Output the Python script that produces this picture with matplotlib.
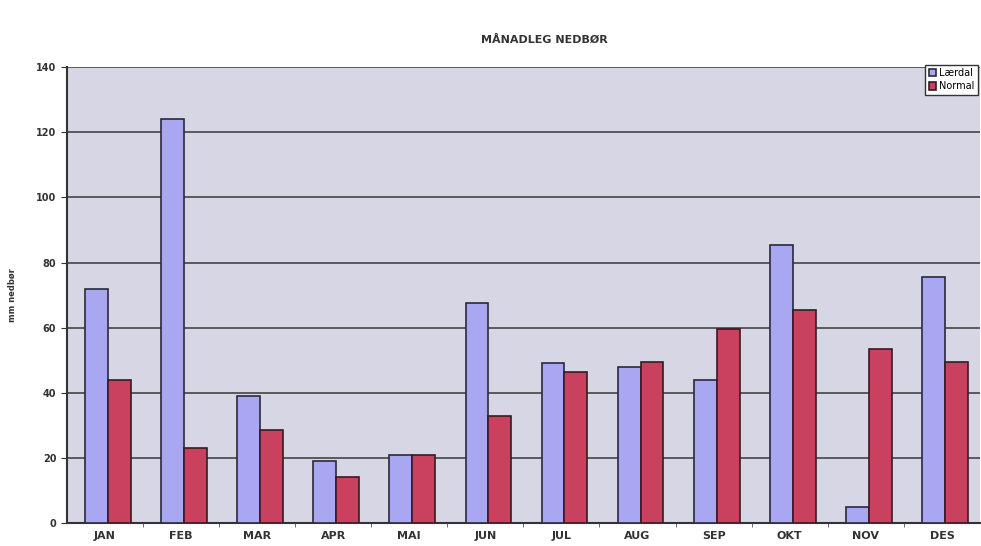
import matplotlib.pyplot as plt
import numpy as np

months = ["JAN", "FEB", "MAR", "APR", "MAI", "JUN", "JUL", "AUG", "SEP", "OKT", "NOV", "DES"]
laerdal = [72, 124, 39, 19, 21, 67.5, 49, 48, 44, 85.5, 5, 75.5]
normal = [44, 23, 28.5, 14, 21, 33, 46.5, 49.5, 59.5, 65.5, 53.5, 49.5]
yticks = [0, 20, 40, 60, 80, 100, 120, 140]

fig = plt.figure(figsize=(9.81, 5.46), dpi=100)
ax = fig.add_axes([0.068, 0.042, 0.931, 0.835])
ax.set_facecolor("#d6d6e4")

x = np.arange(len(months))
w = 0.3
ax.bar(x - w / 2 + 0.04, laerdal, w, color="#a9a6f2", edgecolor="#2a2a3a", linewidth=1.2, label="Lærdal", zorder=3)
ax.bar(x + w / 2 + 0.04, normal, w, color="#c9415f", edgecolor="#3a1a24", linewidth=1.2, label="Normal", zorder=3)

ax.set_xlim(-0.5, len(months) - 0.5)
ax.set_ylim(0, 140)
ax.set_yticks(yticks)
ax.set_yticklabels([str(v) for v in yticks], fontsize=7, fontweight="bold", color="#333333")
ax.set_xticks(x)
ax.set_xticklabels(months, fontsize=8, fontweight="bold", color="#333333")
ax.set_xticks(x[:-1] + 0.5, minor=True)
ax.tick_params(axis="x", which="major", length=0, pad=6)
ax.tick_params(axis="x", which="minor", length=3, color="#555555")
ax.tick_params(axis="y", length=4, color="#333333")
ax.yaxis.grid(True, color="#444444", linewidth=1.2, zorder=0)
for s in ["top", "right"]:
    ax.spines[s].set_visible(False)
ax.spines["left"].set_color("#333333")
ax.spines["bottom"].set_color("#333333")
ax.spines["left"].set_linewidth(1.5)
ax.spines["bottom"].set_linewidth(1.5)

ax.set_ylabel("mm nedbør", fontsize=6, fontweight="bold", color="#333333", labelpad=14)
fig.text(0.555, 0.927, "MÅNADLEG NEDBØR", ha="center", va="center", fontsize=8, fontweight="bold", color="#333333")

leg = ax.legend(loc="upper right", bbox_to_anchor=(1.0, 1.01), fontsize=7, frameon=True,
                fancybox=False, handlelength=0.8, handleheight=0.8, handletextpad=0.3,
                borderpad=0.35, labelspacing=0.35, borderaxespad=0.2)
leg.get_frame().set_edgecolor("#333333")
leg.get_frame().set_facecolor("white")
leg.get_frame().set_alpha(1)

fig.savefig("out.png", dpi=100)
